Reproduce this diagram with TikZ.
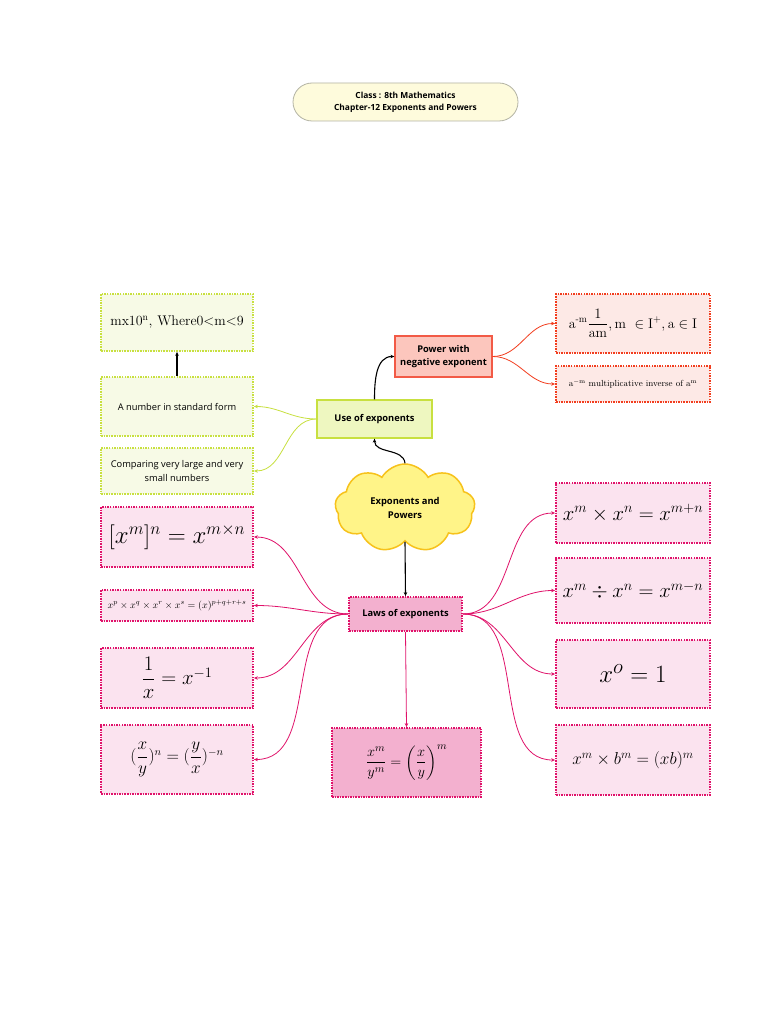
\documentclass[tikz,border=0pt]{standalone}
\usepackage{fontspec}
\usepackage{amsmath}
\newfontfamily\osans{Open Sans}
\usetikzlibrary{positioning,arrows.meta,shapes.symbols}

\definecolor{ttlfill}{HTML}{FEFBDC}
\definecolor{ttldraw}{HTML}{B4B4A4}
\definecolor{grndraw}{HTML}{C8E040}
\definecolor{grnfill}{HTML}{F7FAE6}
\definecolor{usefill}{HTML}{EEF7C0}
\definecolor{reddraw}{HTML}{F23D1E}
\definecolor{redfill}{HTML}{FDE9E6}
\definecolor{powfill}{HTML}{FCC6BD}
\definecolor{powdraw}{HTML}{F25A46}
\definecolor{pnkdraw}{HTML}{E0126A}
\definecolor{pnkfill}{HTML}{FBE3EF}
\definecolor{lawfill}{HTML}{F3B0CF}
\definecolor{cldfill}{HTML}{FFF488}
\definecolor{clddraw}{HTML}{F7C21B}

\newcommand{\fs}[1]{\fontsize{#1}{1.4\dimexpr#1pt\relax}\selectfont}

\begin{document}
\begin{tikzpicture}[
  x=1pt, y=-1pt,
  font=\osans\fs{9.3},
  box/.style={rectangle, minimum width=152pt, inner sep=2pt, align=center},
  dots/.style={line width=1.8pt, dash pattern=on 1.5pt off 1.1pt},
  grn/.style={box, draw=grndraw, fill=grnfill, dots},
  red/.style={box, minimum width=154pt, draw=reddraw, fill=redfill, dots},
  pnk/.style={box, draw=pnkdraw, fill=pnkfill, dots},
  pnkr/.style={pnk, minimum width=154pt},
  arr/.style={-{Stealth[length=4pt,width=3.5pt]}, line width=1.1pt, draw=black},
  garr/.style={-{Stealth[length=4pt,width=3.5pt]}, line width=0.8pt, draw=grndraw},
  rarr/.style={-{Stealth[length=4pt,width=3.5pt]}, line width=0.8pt, draw=reddraw},
  parr/.style={-{Stealth[length=4pt,width=3.5pt]}, line width=0.8pt, draw=pnkdraw}
]
\useasboundingbox (0,0) rectangle (768,1024);
\fill[white] (0,0) rectangle (768,1024);

% title
\node[rectangle, rounded corners=19pt, draw=ttldraw, fill=ttlfill, line width=0.8pt,
      minimum width=225pt, minimum height=38pt, align=center, font=\osans\bfseries\fs{8.4}]
      (ttl) at (405.5,102) {Class : 8th Mathematics\\Chapter-12 Exponents and Powers};

% centre
\node[cloud, cloud puffs=9, cloud puff arc=120, aspect=1.55, draw=clddraw, fill=cldfill,
      line width=1.5pt, minimum width=140pt, minimum height=88pt, align=center,
      font=\osans\bfseries\fs{9.4}] (cent) at (405,508) {Exponents and\\Powers};

% use of exponents branch
\node[rectangle, draw=grndraw, fill=usefill, line width=1.2pt, minimum width=115pt,
      minimum height=38pt, font=\osans\bfseries\fs{9.3}] (use) at (374.5,419) {Use of exponents};
\node[rectangle, draw=powdraw, fill=powfill, line width=1.2pt, minimum width=97pt,
      minimum height=41pt, align=center, font=\osans\bfseries\fs{9.3}]
      (neg) at (443.5,356.5) {Power with\\negative exponent};
\node[grn, minimum height=57pt, font=\fs{14}] (sci) at (177,322.5)
      {$\mathrm{mx10^{n}},\,\mathrm{Where0{<}m{<}9}$};
\node[grn, minimum height=59pt] (std) at (177,406.5) {A number in standard form};
\node[grn, minimum height=46pt] (cmp) at (177,471) {Comparing very large and very\\small numbers};
\node[red, minimum height=59pt, font=\fs{14}] (inv) at (633,323.5)
      {$\mathrm{a^{\text{-}m}}\dfrac{1}{\mathrm{am}},\mathrm{m}\ \in\mathrm{I^{+}},\mathrm{a}\in\mathrm{I}$};
\node[red, minimum height=36pt, font=\fs{8.8}] (mul) at (633,384)
      {$\mathrm{a^{-m}}$ multiplicative inverse of $\mathrm{a^{m}}$};

% laws branch
\node[rectangle, draw=pnkdraw, fill=lawfill, dots, minimum width=113pt, minimum height=34pt,
      font=\osans\bfseries\fs{9.3}] (laws) at (405.5,614) {Laws of exponents};
\node[pnk, minimum height=60pt, font=\fs{23}] (powpow) at (177,537) {$[x^{m}]^{n}=x^{m\times n}$};
\node[pnk, minimum height=31pt, font=\fs{9.6}] (prod) at (177,605.5)
      {$x^{p}\times x^{q}\times x^{r}\times x^{s}=(x)^{p+q+r+s}$};
\node[pnk, minimum height=60pt, font=\fs{20}] (recip) at (177,678) {$\dfrac{1}{x}=x^{-1}$};
\node[pnk, minimum height=69pt, font=\fs{16}] (quot) at (177,759.5)
      {$(\dfrac{x}{y})^{n}=(\dfrac{y}{x})^{-n}$};
\node[pnkr, minimum height=60pt, font=\fs{20}] (mult) at (633,513) {$x^{m}\times x^{n}=x^{m+n}$};
\node[pnkr, minimum height=65pt, font=\fs{20}] (divi) at (633,590.5) {$x^{m}\div x^{n}=x^{m-n}$};
\node[pnkr, minimum height=68pt, font=\fs{28}] (zero) at (633,674) {$x^{o}=1$};
\node[pnkr, minimum height=70pt, font=\fs{16.5}] (same) at (633,760) {$x^{m}\times b^{m}=(xb)^{m}$};
\node[pnk, fill=lawfill, minimum width=149pt, minimum height=69pt, font=\fs{15}] (frac) at (406.5,762.5)
      {$\dfrac{x^{m}}{y^{m}}=\left(\dfrac{x}{y}\right)^{m}$};

% connectors
\draw[arr] (cent.north) to[out=95,in=-90] (use.south);
\draw[arr] (use.north) to[out=90,in=180] (neg.west);
\draw[rarr] (neg.east) to[out=0,in=180] (inv.west);
\draw[rarr] (neg.east) to[out=0,in=180] (mul.west);
\draw[garr] (use.west) to[out=180,in=0] (std.east);
\draw[garr] (use.west) to[out=180,in=0] (cmp.east);
\draw[arr] (std.north) -- (sci.south);
\draw[arr] (cent.south) -- (laws.north);
\foreach \t in {powpow,prod,recip,quot}
  \draw[parr] (laws.west) to[out=180,in=0] (\t.east);
\foreach \t in {mult,divi,zero,same}
  \draw[parr] (laws.east) to[out=0,in=180] (\t.west);
\draw[parr] (laws.south) -- (frac.north);
\end{tikzpicture}
\end{document}
